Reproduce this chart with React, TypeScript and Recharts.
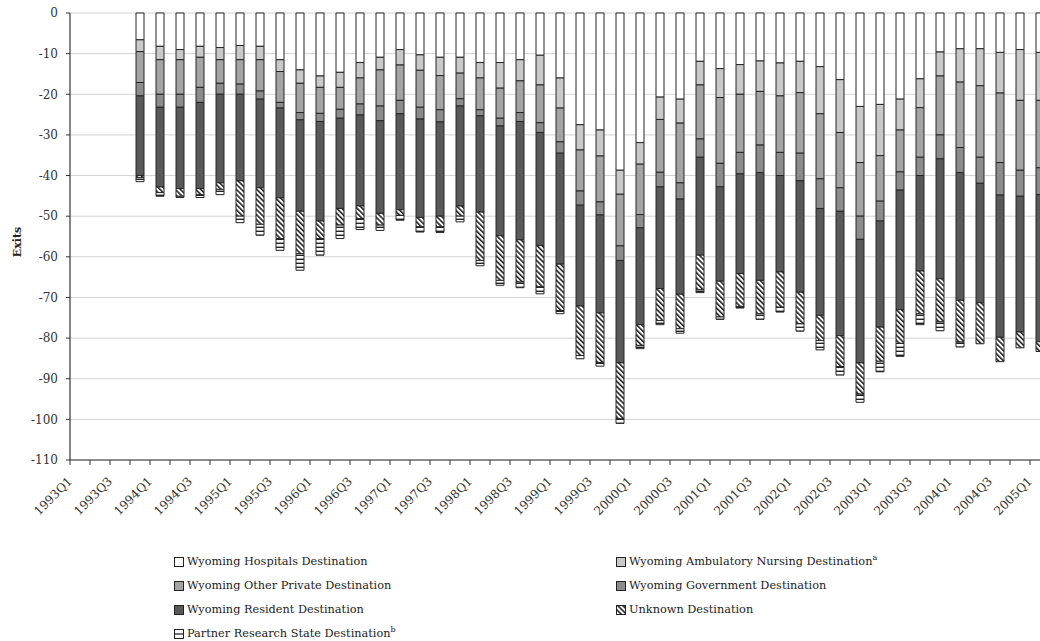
import { Bar, BarChart, CartesianGrid, XAxis, YAxis } from 'recharts'

const quarters = [
  '1993Q1', '1993Q2', '1993Q3', '1993Q4', '1994Q1', '1994Q2', '1994Q3', '1994Q4',
  '1995Q1', '1995Q2', '1995Q3', '1995Q4', '1996Q1', '1996Q2', '1996Q3', '1996Q4',
  '1997Q1', '1997Q2', '1997Q3', '1997Q4', '1998Q1', '1998Q2', '1998Q3', '1998Q4',
  '1999Q1', '1999Q2', '1999Q3', '1999Q4', '2000Q1', '2000Q2', '2000Q3', '2000Q4',
  '2001Q1', '2001Q2', '2001Q3', '2001Q4', '2002Q1', '2002Q2', '2002Q3', '2002Q4',
  '2003Q1', '2003Q2', '2003Q3', '2003Q4', '2004Q1', '2004Q2', '2004Q3', '2004Q4',
  '2005Q1',
]

const hospitals = [
  null, null, null,
  -6.6, -8.2, -9.0, -8.2, -8.5, -8.0, -8.2, -11.5, -14.0, -15.5,
  -14.6, -12.2, -10.9, -9.0, -10.3, -10.9, -10.9, -12.2, -12.2, -11.5,
  -10.4, -16.0, -27.5, -28.8, -38.7, -31.9, -20.7, -21.2, -11.9, -13.7,
  -12.7, -11.8, -12.3, -11.9, -13.2, -16.4, -23.0, -22.5, -21.2, -16.2,
  -9.6, -8.8, -8.8, -9.7, -9.0, -9.7,
]
const ambulatory = [
  null, null, null,
  -2.9, -3.3, -2.5, -2.7, -3.0, -3.5, -3.3, -2.9, -3.3, -2.8,
  -3.7, -3.8, -3.1, -3.8, -3.8, -4.5, -3.9, -3.8, -6.3, -5.2,
  -7.3, -7.4, -6.2, -6.4, -5.9, -5.3, -5.5, -5.9, -5.8, -7.1,
  -7.3, -7.5, -8.1, -7.7, -11.6, -13.0, -13.8, -12.6, -7.6, -7.1,
  -5.9, -8.2, -9.1, -10.0, -12.5, -11.8,
]
const otherPrivate = [
  null, null, null,
  -7.6, -8.5, -8.5, -7.4, -5.8, -6.0, -7.7, -7.6, -7.2, -6.4,
  -5.4, -6.4, -8.9, -8.7, -9.1, -8.4, -6.3, -7.8, -7.4, -7.8,
  -9.3, -8.3, -10.1, -11.3, -12.7, -12.4, -13.0, -14.7, -13.3, -16.2,
  -14.3, -13.2, -13.9, -14.9, -16.0, -13.6, -13.2, -11.2, -10.3, -12.2,
  -14.5, -16.1, -17.6, -17.1, -17.2, -16.6,
]
const government = [
  null, null, null,
  -3.3, -3.2, -3.2, -3.7, -2.7, -2.5, -2.0, -1.4, -1.8, -2.0,
  -2.2, -2.7, -3.6, -3.3, -2.9, -3.0, -1.8, -1.5, -1.9, -2.2,
  -2.4, -2.8, -3.5, -3.2, -3.6, -3.3, -3.6, -4.0, -4.5, -5.8,
  -5.3, -6.8, -5.7, -6.8, -7.3, -5.8, -5.7, -4.9, -4.5, -4.5,
  -5.9, -6.2, -6.4, -8.0, -6.4, -6.6,
]
const resident = [
  null, null, null,
  -19.6, -19.6, -20.0, -21.2, -21.8, -21.3, -21.8, -22.1, -22.5, -24.5,
  -22.2, -22.4, -22.8, -23.6, -24.2, -23.2, -24.6, -23.7, -27.0, -29.1,
  -27.8, -27.3, -24.8, -24.1, -25.2, -23.8, -25.0, -23.4, -24.1, -23.2,
  -24.5, -26.5, -23.7, -27.4, -26.3, -30.6, -30.4, -26.1, -29.4, -23.5,
  -29.5, -31.4, -29.4, -35.0, -33.4, -36.2,
]
const unknown = [
  null, null, null,
  -0.5, -1.4, -1.9, -1.5, -1.6, -8.7, -9.0, -10.0, -10.4, -4.3,
  -4.1, -3.1, -2.9, -1.4, -2.3, -2.6, -2.5, -11.9, -11.0, -10.4,
  -10.2, -11.4, -12.2, -12.2, -13.8, -5.1, -7.9, -8.5, -8.5, -8.8,
  -8.1, -8.2, -8.7, -7.8, -6.2, -7.6, -7.7, -8.4, -8.3, -10.5,
  -10.6, -10.3, -10.1, -6.0, -3.9, -2.4,
]
const partner = [
  null, null, null,
  -1.0, -0.9, -0.3, -0.7, -1.3, -1.6, -2.7, -2.9, -4.1, -4.1,
  -3.3, -2.7, -1.3, -1.2, -1.3, -1.4, -1.4, -1.3, -1.2, -1.4,
  -1.7, -0.8, -0.8, -0.9, -1.1, -0.8, -1.0, -1.1, -0.7, -0.6,
  -0.4, -1.4, -1.2, -1.8, -2.3, -2.1, -2.0, -2.6, -3.2, -2.7,
  -2.2, -1.2, null, null, null, null,
]

const yTicks = [0, -10, -20, -30, -40, -50, -60, -70, -80, -90, -100, -110]

const series = [
  { key: 'hospitals', name: 'Wyoming Hospitals Destination', sup: '', fill: '#ffffff' },
  { key: 'ambulatory', name: 'Wyoming Ambulatory Nursing Destination', sup: 'a', fill: '#c9c9c9' },
  { key: 'otherPrivate', name: 'Wyoming Other Private Destination', sup: '', fill: '#a4a4a4' },
  { key: 'government', name: 'Wyoming Government Destination', sup: '', fill: '#8b8b8b' },
  { key: 'resident', name: 'Wyoming Resident Destination', sup: '', fill: '#595959' },
  { key: 'unknown', name: 'Unknown Destination', sup: '', fill: 'url(#hatch)' },
  { key: 'partner', name: 'Partner Research State Destination', sup: 'b', fill: 'url(#hstripes)' },
]

const data = quarters.map((q, i) => ({
  quarter: q,
  hospitals: hospitals[i],
  ambulatory: ambulatory[i],
  otherPrivate: otherPrivate[i],
  government: government[i],
  resident: resident[i],
  unknown: unknown[i],
  partner: partner[i],
}))

const FONT = '"DejaVu Serif", serif'

function QuarterTick(props: any) {
  const { x, y, payload, index } = props
  const half = payload && payload.offset ? payload.offset : 10
  const bx = x - half
  const tx = x - 7
  const ty = y + 22
  return (
    <g>
      <line x1={bx} y1={y} x2={bx} y2={y + 5} stroke="#333" strokeWidth={1} />
      {index % 2 === 0 && (
        <text
          x={tx}
          y={ty}
          transform={`rotate(-45 ${tx} ${ty})`}
          textAnchor="end"
          fontFamily={FONT}
          fontSize={12}
          fill="#333"
        >
          {payload.value}
        </text>
      )}
    </g>
  )
}

function ExitsLabel() {
  return (
    <text
      x={17}
      y={242}
      transform="rotate(-90 17 242)"
      textAnchor="middle"
      dominantBaseline="central"
      fontFamily={FONT}
      fontWeight="bold"
      fontSize={11}
      fill="#222"
    >
      Exits
    </text>
  )
}

function LegendIcon({ k, fill }: { k: string; fill: string }) {
  return (
    <svg width={10} height={10} style={{ marginRight: 3, flex: 'none' }}>
      {k === 'partner' ? (
        <g>
          <rect x={0.5} y={0.5} width={9} height={9} fill="#fff" stroke="#222" />
          <line x1={0.5} y1={5} x2={9.5} y2={5} stroke="#222" strokeWidth={1.3} />
        </g>
      ) : (
        <rect x={0.5} y={0.5} width={9} height={9} fill={fill} stroke="#222" />
      )}
    </svg>
  )
}

const legendPos = [
  { left: 174, top: 555 },
  { left: 616, top: 555 },
  { left: 174, top: 579 },
  { left: 616, top: 579 },
  { left: 174, top: 603 },
  { left: 616, top: 603 },
  { left: 174, top: 627 },
]

export default function App() {
  return (
    <div
      style={{
        position: 'absolute',
        left: 0,
        top: 0,
        width: 1040,
        height: 641,
        overflow: 'hidden',
        background: '#fff',
      }}
    >
      <BarChart
        width={1060}
        height={641}
        data={data}
        margin={{ top: 13, right: 10, bottom: 0, left: 0 }}
        barSize={8}
      >
        <defs>
          <pattern id="hatch" width="3.6" height="3.6" patternUnits="userSpaceOnUse" patternTransform="rotate(-45)">
            <rect width="3.6" height="3.6" fill="#fff" />
            <rect width="1.6" height="3.6" fill="#222" />
          </pattern>
          <pattern id="hstripes" width="4" height="4" patternUnits="userSpaceOnUse">
            <rect width="4" height="4" fill="#fff" />
            <rect y="2.6" width="4" height="1.4" fill="#222" />
          </pattern>
        </defs>
        <CartesianGrid vertical={false} stroke="#d3d3d3" />
        <XAxis
          dataKey="quarter"
          interval={0}
          height={181}
          tickSize={0}
          tickMargin={0}
          tickLine={false}
          axisLine={{ stroke: '#333', strokeWidth: 1.2 }}
          tick={<QuarterTick />}
        />
        <YAxis
          width={70}
          domain={[-110, 0]}
          ticks={yTicks}
          interval={0}
          tickSize={4}
          tickMargin={8}
          tickLine={{ stroke: '#333' }}
          axisLine={{ stroke: '#333', strokeWidth: 1.2 }}
          tick={{ fontFamily: FONT, fontSize: 12, fill: '#333' }}
          label={<ExitsLabel />}
        />
        {series.map((s) => (
          <Bar
            key={s.key}
            dataKey={s.key}
            name={s.name}
            stackId="exits"
            fill={s.fill}
            stroke="#262626"
            strokeWidth={1}
            isAnimationActive={false}
          />
        ))}
      </BarChart>
      {series.map((s, i) => (
        <div
          key={s.key}
          style={{
            position: 'absolute',
            left: legendPos[i].left,
            top: legendPos[i].top,
            display: 'flex',
            alignItems: 'center',
            fontFamily: FONT,
            fontSize: 11.3,
            color: '#222',
            whiteSpace: 'nowrap',
            lineHeight: '14px',
          }}
        >
          <LegendIcon k={s.key} fill={s.fill} />
          <span>
            {s.name}
            {s.sup && <sup style={{ fontSize: 8, lineHeight: 0 }}>{s.sup}</sup>}
          </span>
        </div>
      ))}
    </div>
  )
}
